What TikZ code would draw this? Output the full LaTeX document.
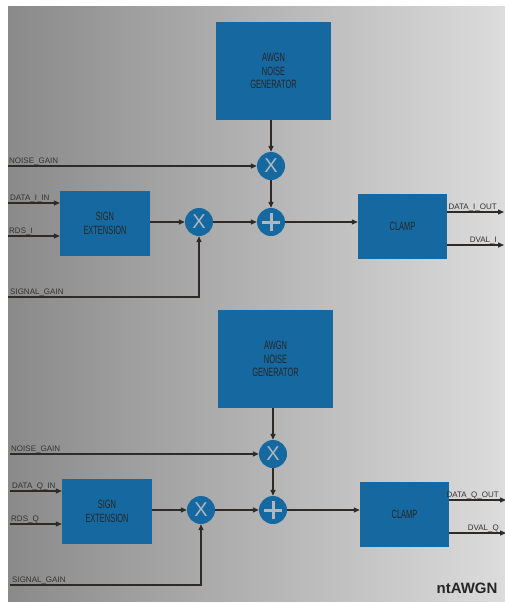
\documentclass[tikz,border=0pt]{standalone}
\usepackage{fontspec}
\setmainfont{Liberation Sans}
\newfontfamily\narrowfont[FakeStretch=0.62]{Liberation Sans}
\usetikzlibrary{arrows.meta}
\definecolor{awgnblue}{RGB}{21,105,160}
\definecolor{wirecol}{RGB}{45,42,40}
\definecolor{signgray}{RGB}{176,184,190}
\definecolor{bgleft}{RGB}{138,138,138}
\definecolor{bgmid}{RGB}{196,196,196}
\definecolor{bgright}{RGB}{220,220,220}

\begin{document}
\begin{tikzpicture}[x=1pt,y=-1pt,
    block/.style={fill=awgnblue, text=black!85, inner sep=0pt, align=center,
      font=\narrowfont\fontsize{12}{13.5}\selectfont},
    mult/.style={circle, fill=awgnblue, minimum size=28pt, inner sep=0pt,
      text=signgray, font=\fontsize{20}{20}\selectfont},
    add/.style={circle, fill=awgnblue, minimum size=28pt, inner sep=0pt,
      path picture={
        \draw[signgray, line width=3pt]
          ([xshift=-9pt]path picture bounding box.center) -- ([xshift=9pt]path picture bounding box.center)
          ([yshift=-9pt]path picture bounding box.center) -- ([yshift=9pt]path picture bounding box.center);}},
    wire/.style={draw=wirecol, line width=1.2pt, -{Triangle[length=6pt,width=5pt]}},
    lbl/.style={text=black!80, font=\fontsize{8}{8}\selectfont, inner sep=0pt}]

  \useasboundingbox (0,0) rectangle (505,603);
  \shade[left color=bgleft, middle color=bgmid, right color=bgright]
    (8,6) rectangle (505,601);

  % one channel per pass: I on top, Q below
  \foreach \h / \ch in {0/I, 1/Q} {
    \begin{scope}[shift={(2*\h,288*\h)}]
      \node[block, minimum width=115pt, minimum height=98pt] (gen\ch) at (273.5,71) {AWGN\\NOISE\\GENERATOR};
      \node[block, minimum width=90pt, minimum height=65pt] (sext\ch) at (105,223.5) {SIGN\\EXTENSION};
      \node[block, minimum width=89pt, minimum height=65pt] (clamp\ch) at (402.5,226.5) {CLAMP};
      \node[mult] (mulN\ch) at (271,166) {X};
      \node[mult] (mulS\ch) at (199,222) {X};
      \node[add] (sum\ch) at (271,222) {};

      \coordinate (noise\ch) at (8,166);
      \coordinate (din\ch) at (8,203);
      \coordinate (rds\ch) at (8,236);
      \coordinate (sgain\ch) at (8,297);
      \coordinate (dout\ch) at (504,212);
      \coordinate (dval\ch) at (504,245);

      \node[lbl, anchor=base west] (noiseL\ch) at ([shift={(1,-3)}]noise\ch) {NOISE\_GAIN};
      \node[lbl, anchor=base west] (dinL\ch) at ([shift={(2,-2.5)}]din\ch) {DATA\_\ch\_IN};
      \node[lbl, anchor=base west] (rdsL\ch) at ([shift={(1,-2.5)}]rds\ch) {RDS\_\ch};
      \node[lbl, anchor=base west] (sgainL\ch) at ([shift={(2,-2.5)}]sgain\ch) {SIGNAL\_GAIN};
      \node[lbl, anchor=base east] (doutL\ch) at ([shift={(-7,-2.5)}]dout\ch) {DATA\_\ch\_OUT};
      \node[lbl, anchor=base east] (dvalL\ch) at ([shift={(-7,-2.5)}]dval\ch) {DVAL\_\ch};

      \path[wire] (mulN\ch |- gen\ch.south) -- (mulN\ch);
      \path[wire] (noise\ch) -- (mulN\ch);
      \path[wire] (mulN\ch) -- (sum\ch);
      \path[wire] (din\ch) -- (din\ch -| sext\ch.west);
      \path[wire] (rds\ch) -- (rds\ch -| sext\ch.west);
      \path[wire] (sext\ch.east |- mulS\ch) -- (mulS\ch);
      \path[wire] (sgain\ch) -| (mulS\ch);
      \path[wire] (mulS\ch) -- (sum\ch);
      \path[wire] (sum\ch) -- (sum\ch -| clamp\ch.west);
      \path[wire] (clamp\ch.east |- dout\ch) -- (dout\ch);
      \path[wire] (clamp\ch.east |- dval\ch) -- (dval\ch);
    \end{scope}
  }

  \node[anchor=base east, text=black!85, font=\bfseries\fontsize{15}{15}\selectfont] (title) at (501,593) {ntAWGN};
\end{tikzpicture}
\end{document}
